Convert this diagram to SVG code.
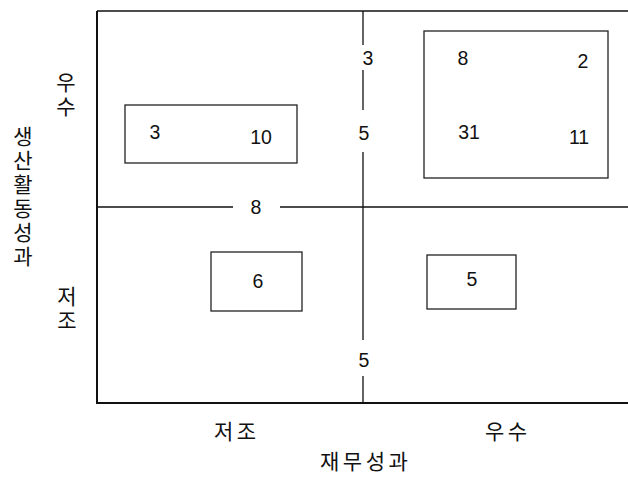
<svg xmlns="http://www.w3.org/2000/svg" width="628" height="479" viewBox="0 0 628 479">
<style>
.ax{stroke:#111;stroke-width:2;fill:none}
.ln{stroke:#111;stroke-width:1.3;fill:none}
.bx{stroke:#222;stroke-width:1.3;fill:#fff}
.n{font-family:"Liberation Sans",Arial,sans-serif;font-size:19.5px;fill:#111;text-anchor:middle;dominant-baseline:central}
.k{font-family:"Noto Sans CJK KR",sans-serif;font-size:21px;font-weight:400;fill:#111;dominant-baseline:central;letter-spacing:3.5px}
.v{font-family:"Noto Sans CJK KR",sans-serif;font-size:21px;font-weight:400;fill:#111;text-anchor:middle;writing-mode:vertical-rl;letter-spacing:3px}
</style>
<rect width="628" height="479" fill="#fff"/>
<g id="connectors">
<path class="ax" d="M97,11 V403 H628"/>
<path class="ln" d="M97,11 H628"/>
<path class="ln" d="M97,207 H233 M280,207 H628"/>
<path class="ln" d="M363,11 V45 M363,70 V110 M363,152 V340 M363,376 V403"/>
<text class="n" x="256" y="207">8</text>
<text class="n" x="368" y="58">3</text>
<text class="n" x="364" y="133">5</text>
<text class="n" x="364" y="360">5</text>
</g>
<g id="box1">
<rect class="bx" x="125" y="105" width="172" height="58"/>
<text class="n" x="155" y="132">3</text>
<text class="n" x="261" y="137">10</text>
</g>
<g id="box2">
<rect class="bx" x="424" y="31" width="184" height="147"/>
<text class="n" x="463" y="58">8</text>
<text class="n" x="583" y="61">2</text>
<text class="n" x="469" y="132">31</text>
<text class="n" x="579" y="137">11</text>
</g>
<g id="box3">
<rect class="bx" x="211" y="252" width="91" height="59"/>
<text class="n" x="258" y="281">6</text>
</g>
<g id="box4">
<rect class="bx" x="427" y="255" width="89" height="54"/>
<text class="n" x="472" y="279">5</text>
</g>
<g id="labels">
<text class="v" x="66" y="96">우수</text>
<text class="v" x="67" y="310">저조</text>
<text class="v" x="23" y="198">생산활동성과</text>
<text class="k" x="214" y="430">저조</text>
<text class="k" x="485" y="430">우수</text>
<text class="k" x="320" y="460">재무성과</text>
</g>
</svg>
